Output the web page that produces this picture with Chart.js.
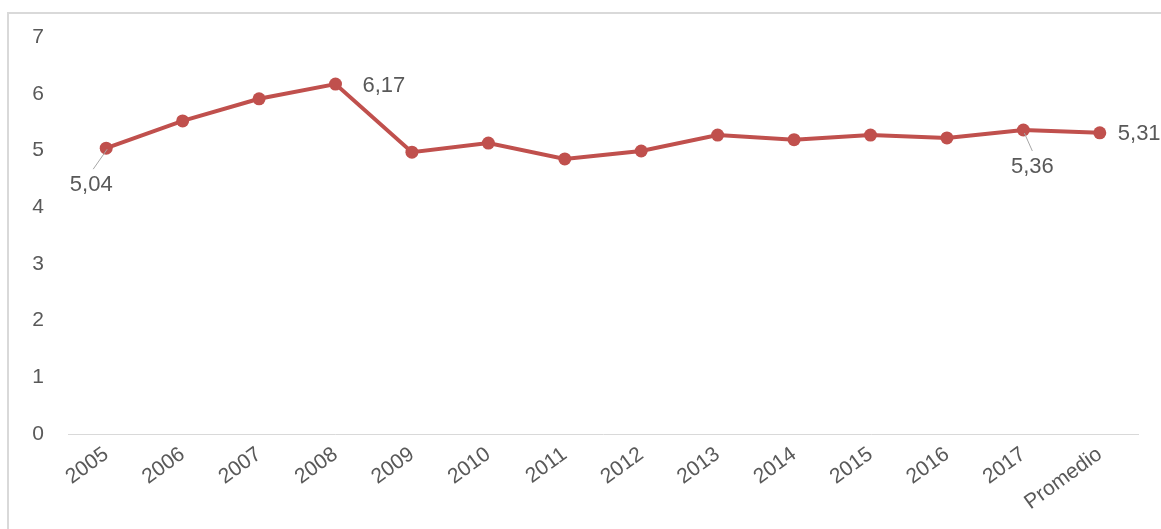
<!DOCTYPE html>
<html>
<head>
<meta charset="utf-8">
<script src="https://cdn.jsdelivr.net/npm/chart.js@4"></script>
<style>
  html, body { margin: 0; padding: 0; background: #fff; }
  #wrap { position: relative; width: 1161px; height: 529px; }
  #frame { position: absolute; left: 7px; top: 12px; width: 1160px; height: 530px;
           border-left: 2px solid #d9d9d9; border-top: 2px solid #d9d9d9; box-sizing: border-box; }
  canvas { position: absolute; left: 0; top: 0; }
</style>
</head>
<body>
<div id="wrap">
  <div id="frame"></div>
  <canvas id="c" width="1161" height="529"></canvas>
</div>
<script>
const categories = ['2005','2006','2007','2008','2009','2010','2011','2012','2013','2014','2015','2016','2017','Promedio'];
const values = [5.04, 5.52, 5.91, 6.17, 4.97, 5.13, 4.85, 4.99, 5.27, 5.19, 5.27, 5.22, 5.36, 5.31];
const yTicks = [0, 1, 2, 3, 4, 5, 6, 7];
const labeledIdx = [0, 3, 12, 13];

const FONT = '"Liberation Sans", Arial, sans-serif';
const TEXT = '#595959';

const labelPlugin = {
  id: 'dataLabels',
  afterDatasetsDraw(chart) {
    const ctx = chart.ctx;
    const meta = chart.getDatasetMeta(0);
    ctx.save();
    ctx.font = '22px ' + FONT;
    ctx.fillStyle = TEXT;
    ctx.textBaseline = 'middle';
    labeledIdx.forEach(i => {
      const p = meta.data[i];
      const txt = values[i].toFixed(2).replace('.', ',');
      let tx, ty, align, leader = null;
      if (i === 0) { tx = p.x - 15; ty = p.y + 37; align = 'center'; leader = [p.x + 1, p.y + 1, p.x - 13, p.y + 21]; }
      else if (i === 3) { tx = p.x + 27; ty = p.y + 2; align = 'left'; }
      else if (i === 12) { tx = p.x + 9; ty = p.y + 37; align = 'center'; leader = [p.x + 1, p.y + 3, p.x + 9, p.y + 21]; }
      else { tx = p.x + 18; ty = p.y + 1; align = 'left'; }
      if (leader) {
        ctx.strokeStyle = '#a6a6a6';
        ctx.lineWidth = 1;
        ctx.beginPath();
        ctx.moveTo(leader[0], leader[1]);
        ctx.lineTo(leader[2], leader[3]);
        ctx.stroke();
      }
      ctx.textAlign = align;
      ctx.fillText(txt, tx, ty);
    });
    ctx.restore();
  }
};

new Chart(document.getElementById('c'), {
  type: 'line',
  data: {
    labels: categories,
    datasets: [{
      data: values,
      borderColor: '#C0504D',
      backgroundColor: '#C0504D',
      borderWidth: 4,
      pointRadius: 6.5,
      pointHoverRadius: 6.5,
      pointBorderWidth: 0,
      tension: 0
    }]
  },
  options: {
    responsive: false,
    animation: false,
    events: [],
    layout: { padding: { left: 10, right: 23, top: 37, bottom: 0 } },
    plugins: { legend: { display: false }, tooltip: { enabled: false } },
    scales: {
      x: {
        offset: true,
        grid: { display: false, drawTicks: false },
        border: { display: true, color: '#d9d9d9', width: 1 },
        ticks: {
          color: TEXT,
          font: { family: FONT, size: 21 },
          maxRotation: 36, minRotation: 36,
          padding: 8,
          autoSkip: false
        },
        afterFit(s) { s.height = 95; }
      },
      y: {
        min: 0, max: 7,
        grid: { display: false, drawTicks: false },
        border: { display: false },
        afterBuildTicks(s) { s.ticks = yTicks.map(v => ({ value: v })); },
        ticks: {
          color: TEXT,
          font: { family: FONT, size: 21 },
          padding: 24
        },
        afterFit(s) { s.width = 58; }
      }
    }
  },
  plugins: [labelPlugin]
});
</script>
</body>
</html>
